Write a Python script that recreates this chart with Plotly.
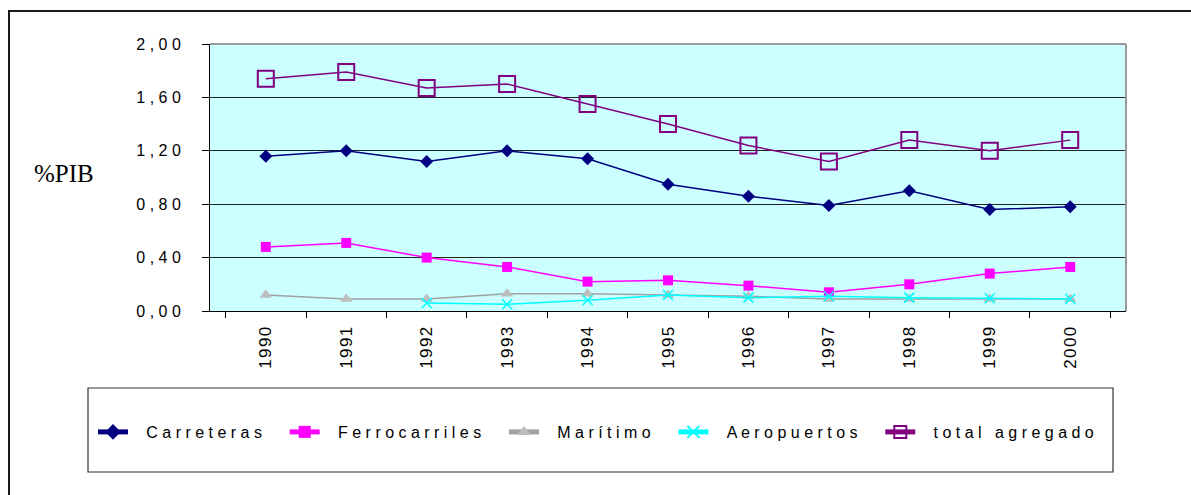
import plotly.graph_objects as go

# Inversión en infraestructuras de transporte (% del PIB), 1990-2000
years = ["1990", "1991", "1992", "1993", "1994", "1995", "1996", "1997", "1998", "1999", "2000"]

carreteras = [1.16, 1.20, 1.12, 1.20, 1.14, 0.95, 0.86, 0.79, 0.90, 0.76, 0.78]
ferrocarriles = [0.48, 0.51, 0.40, 0.33, 0.22, 0.23, 0.19, 0.14, 0.20, 0.28, 0.33]
maritimo = [0.12, 0.09, 0.09, 0.13, 0.13, 0.12, 0.11, 0.09, 0.09, 0.09, 0.09]
aeropuertos = [None, None, 0.06, 0.05, 0.08, 0.12, 0.10, 0.11, 0.10, 0.095, 0.09]
total_agregado = [1.74, 1.79, 1.67, 1.70, 1.55, 1.40, 1.24, 1.12, 1.28, 1.20, 1.28]

series_names = ["Carreteras", "Ferrocarriles", "Marítimo", "Aeropuertos", "total agregado"]

y_tick_values = [0.0, 0.4, 0.8, 1.2, 1.6, 2.0]
y_tick_labels = ["0,00", "0,40", "0,80", "1,20", "1,60", "2,00"]

FONT = "Liberation Sans, Arial, sans-serif"
NBSP = "\u00a0"


def spaced(text, sep=" "):
    """Wide-tracked label text, as in the original spreadsheet chart."""
    return sep.join(text)


def legend_label(name):
    # extra non-breaking padding widens each legend entry
    return NBSP * 3 + spaced(name) + NBSP * 4


W, H = 1191, 495
L, R, T, B = 210, 65, 44, 184
PW, PH = W - L - R, H - T - B


def px(x):
    return (x - L) / PW


def py(y):
    return (H - B - y) / PH


styles = [
    dict(line=dict(color="#000080", width=1.5),
         marker=dict(symbol="diamond", size=10, color="#000080")),
    dict(line=dict(color="#FF00FF", width=1.5),
         marker=dict(symbol="square", size=10, color="#FF00FF")),
    dict(line=dict(color="#A0A0A0", width=1.5),
         marker=dict(symbol="triangle-up", size=11, color="#BDBDBD")),
    dict(line=dict(color="#00FFFF", width=1.5),
         marker=dict(symbol="x-thin", size=10, color="#00FFFF",
                     line=dict(color="#00FFFF", width=1.5))),
    dict(line=dict(color="#800080", width=1.5),
         marker=dict(symbol="square-open", size=16, color="#800080",
                     line=dict(color="#800080", width=2))),
]

fig = go.Figure()
for name, values, style in zip(series_names,
                               [carreteras, ferrocarriles, maritimo, aeropuertos, total_agregado],
                               styles):
    fig.add_trace(go.Scatter(
        x=years, y=values, mode="lines+markers", name=legend_label(name),
        connectgaps=False, **style,
    ))

fig.update_layout(
    width=W, height=H,
    margin=dict(l=L, r=R, t=T, b=B),
    paper_bgcolor="white",
    plot_bgcolor="#CCFFFF",
    font=dict(family=FONT, size=16, color="black"),
    showlegend=True,
    legend=dict(
        orientation="h",
        x=px(93), xanchor="left",
        y=py(432), yanchor="middle",
        bgcolor="rgba(0,0,0,0)",
        borderwidth=0,
        font=dict(family=FONT, size=16, color="black"),
        itemsizing="constant",
    ),
    xaxis=dict(
        type="category",
        categoryorder="array", categoryarray=years,
        tickvals=years,
        ticktext=[spaced(y, "\u200a") for y in years],
        tickangle=-90,
        tickson="boundaries",
        ticks="outside", ticklen=6, tickcolor="black", tickwidth=1,
        ticklabelstandoff=8,
        showline=True, linecolor="black", linewidth=1,
        showgrid=False, zeroline=False,
        tickfont=dict(family=FONT, size=17, color="black"),
    ),
    yaxis=dict(
        range=[0, 2],
        tickvals=y_tick_values,
        ticktext=[spaced(t) for t in y_tick_labels],
        ticks="outside", ticklen=7, tickcolor="black", tickwidth=1,
        ticklabelstandoff=18,
        showline=True, linecolor="black", linewidth=1,
        showgrid=True, gridcolor="#222222", gridwidth=1,
        zeroline=False,
        tickfont=dict(family=FONT, size=16, color="black"),
    ),
)

# Y-axis caption
fig.add_annotation(
    text="%PIB", xref="paper", yref="paper",
    x=px(64), y=py(173), xanchor="center", yanchor="middle",
    showarrow=False,
    font=dict(family="Liberation Serif, Times New Roman, serif", size=25, color="black"),
)

# Grey plot-area border on the top and right edges
fig.add_shape(type="line", xref="paper", yref="paper", x0=0, x1=1, y0=1, y1=1,
              line=dict(color="#9A9A9A", width=2), layer="above")
fig.add_shape(type="line", xref="paper", yref="paper", x0=1, x1=1, y0=0, y1=1,
              line=dict(color="#9A9A9A", width=2), layer="above")

# Legend frame
fig.add_shape(type="rect", xref="paper", yref="paper",
              x0=px(88), x1=px(1113), y0=py(472), y1=py(388),
              line=dict(color="#333333", width=1.2), fillcolor="rgba(0,0,0,0)")

# Outer chart frame (continues past the right and bottom edges)
fig.add_shape(type="rect", xref="paper", yref="paper",
              x0=px(9), x1=px(1220), y0=py(520), y1=py(11),
              line=dict(color="#1A1A1A", width=2), fillcolor="rgba(0,0,0,0)")

fig.write_html("out.html")
